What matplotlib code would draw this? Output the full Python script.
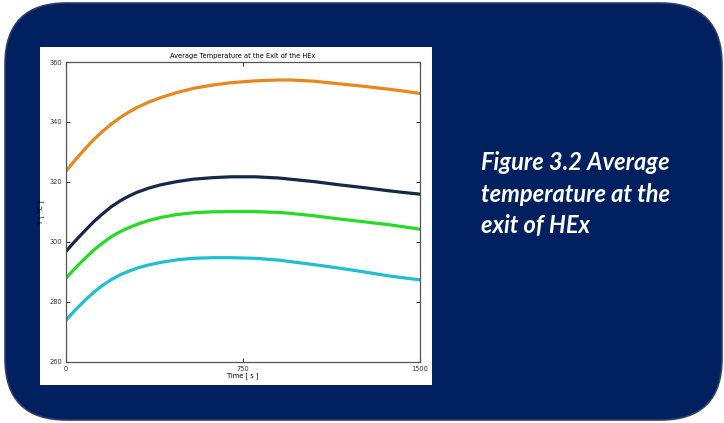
import numpy as np
import matplotlib.pyplot as plt
from matplotlib.patches import FancyBboxPatch, Rectangle

# time [s] and average exit temperature [°C] for the four cases
time_s = [0, 20, 40, 60, 90, 120, 150, 190, 230, 260, 300, 350, 400, 470, 540,
          620, 700, 800, 900, 950, 1050, 1160, 1260, 1370, 1440, 1500]
temp_orange = [323.6, 325.5, 327.4, 329.2, 331.8, 334.3, 336.5, 339.2, 341.5, 343.0,
               344.8, 346.6, 348.1, 349.8, 351.2, 352.3, 353.1, 353.7, 354.0, 354.0,
               353.6, 352.7, 351.9, 350.9, 350.2, 349.5]
temp_navy = [296.8, 298.6, 300.35, 302.05, 304.5, 306.9, 309.0, 311.6, 313.7, 315.0,
             316.5, 317.9, 319.0, 320.1, 320.9, 321.4, 321.7, 321.7, 321.3, 320.9,
             320.1, 319.0, 318.1, 317.0, 316.4, 315.9]
temp_green = [287.9, 289.6, 291.3, 292.9, 295.2, 297.4, 299.3, 301.6, 303.4, 304.5,
              305.8, 307.1, 308.1, 309.1, 309.7, 310.0, 310.1, 310.1, 309.8, 309.5,
              308.7, 307.6, 306.7, 305.7, 304.9, 304.2]
temp_cyan = [273.8, 275.6, 277.3, 278.9, 281.2, 283.3, 285.2, 287.3, 289.0, 290.0,
             291.2, 292.3, 293.1, 294.0, 294.5, 294.7, 294.7, 294.5, 293.9, 293.4,
             292.4, 291.2, 290.0, 288.6, 287.9, 287.3]

x_ticks = [0, 750, 1500]
y_ticks = [260, 280, 300, 320, 340, 360]
caption = "Figure 3.2 Average\ntemperature at the\nexit of HEx"

W, H = 724, 423
fig = plt.figure(figsize=(W / 100, H / 100), dpi=100)
fig.patch.set_facecolor("white")

# navy rounded panel
panel = FancyBboxPatch((5 / W, 3 / H), 717 / W, 417 / H,
                       boxstyle="round,pad=0,rounding_size=0.085",
                       mutation_aspect=W / H,
                       transform=fig.transFigure, facecolor="#00205f",
                       edgecolor="#2c3f6c", linewidth=1.2, zorder=0)
fig.patches.append(panel)

# white inset behind the plot
fig.patches.append(Rectangle((40 / W, 1 - 385 / H), 392 / W, 338 / H,
                             transform=fig.transFigure, facecolor="white",
                             edgecolor="none", zorder=1))

ax = fig.add_axes([66 / W, 1 - 361.7 / H, 354 / W, 299.7 / H])
ax.set_zorder(2)
ax.plot(time_s, temp_orange, color="#e8871e", lw=2.3, solid_capstyle="round")
ax.plot(time_s, temp_navy, color="#14284a", lw=2.3, solid_capstyle="round")
ax.plot(time_s, temp_green, color="#25dc25", lw=2.3, solid_capstyle="round")
ax.plot(time_s, temp_cyan, color="#1fbfcf", lw=2.3, solid_capstyle="round")

ax.set_xlim(0, 1500)
ax.set_ylim(260, 360)
ax.set_xticks(x_ticks)
ax.set_yticks(y_ticks)
ax.tick_params(direction="in", length=3, width=0.8, labelsize=4.8, pad=3,
               top=True, right=True, colors="#333333")
for s in ax.spines.values():
    s.set_color("#555555")
    s.set_linewidth(0.9)
ax.set_title("Average Temperature at the Exit of the HEx", fontsize=4.8, pad=3)
ax.set_xlabel("Time [ s ]", fontsize=4.8, labelpad=0)
ax.set_ylabel("T [ °C ]", fontsize=4.8, labelpad=3)

fig.text(481 / W, 1 - 151 / H, caption, color="white", fontsize=17,
         family="Lato", weight="bold", style="italic", va="top", ha="left",
         linespacing=1.46)

fig.savefig("out.png", dpi=100)
